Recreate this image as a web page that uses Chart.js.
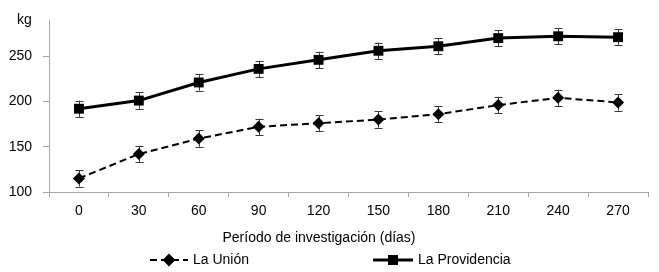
<!DOCTYPE html>
<html>
<head>
<meta charset="utf-8">
<script src="https://cdn.jsdelivr.net/npm/chart.js@4/dist/chart.umd.min.js"></script>
<style>
  html, body { margin: 0; padding: 0; background: #fff; }
  #wrap { width: 659px; height: 272px; position: relative; }
</style>
</head>
<body>
<div id="wrap"><canvas id="c" width="659" height="272"></canvas></div>
<script>
const categories = ["0", "30", "60", "90", "120", "150", "180", "210", "240", "270"];
const laUnion = [115, 142, 159, 172, 176, 180, 186, 196, 204, 199];
const laUnionErr = [9, 9, 9, 9, 9, 9, 9, 9, 9, 9];
const laProvidencia = [192, 201, 221, 236, 246, 256, 261, 270, 272, 271];
const laProvidenciaErr = [9, 9, 9, 9, 9, 9, 9, 9, 9, 9];
const yTicks = [100, 150, 200, 250];
const seriesNames = ["La Unión", "La Providencia"];
const yUnit = "kg";
const xTitle = "Período de investigación (días)";

const FONT = "'Liberation Sans', Arial, sans-serif";
const AXIS = "#a6a6a6";

const errorBars = {
  id: "errorBars",
  beforeDatasetsDraw(chart) {
    const ctx = chart.ctx;
    const y = chart.scales.y;
    chart.data.datasets.forEach((ds, i) => {
      const meta = chart.getDatasetMeta(i);
      ctx.save();
      ctx.strokeStyle = "#3a3a3a";
      ctx.lineWidth = 1;
      meta.data.forEach((pt, j) => {
        const e = ds.errors[j];
        const v = ds.data[j];
        const yTop = y.getPixelForValue(v + e);
        const yBot = y.getPixelForValue(v - e);
        const x = Math.round(pt.x) + 0.5;
        ctx.beginPath();
        ctx.moveTo(x, yTop); ctx.lineTo(x, yBot);
        ctx.moveTo(x - 4, Math.round(yTop) + 0.5); ctx.lineTo(x + 4, Math.round(yTop) + 0.5);
        ctx.moveTo(x - 4, Math.round(yBot) + 0.5); ctx.lineTo(x + 4, Math.round(yBot) + 0.5);
        ctx.stroke();
      });
      ctx.restore();
    });
  }
};

const extras = {
  id: "extras",
  afterDraw(chart) {
    const ctx = chart.ctx;
    ctx.save();
    ctx.fillStyle = "#000";
    ctx.font = "14px " + FONT;
    ctx.textBaseline = "middle";
    // unit label
    ctx.textAlign = "left";
    ctx.fillText(yUnit, 17, 20);
    // x title
    ctx.textAlign = "center";
    ctx.fillText(xTitle, 319, 238);
    // legend
    const ly = 260;
    const ds = chart.data.datasets;
    // La Unión
    ctx.strokeStyle = "#000";
    ctx.lineWidth = 2;
    ctx.setLineDash([7, 4]);
    ctx.beginPath(); ctx.moveTo(150, ly); ctx.lineTo(188, ly); ctx.stroke();
    ctx.setLineDash([]);
    Chart.helpers.drawPoint(ctx, { pointStyle: "rectRot", radius: 5, borderWidth: 1 }, 169, ly);
    ctx.fill();
    ctx.textAlign = "left";
    ctx.fillText(ds[0].label, 193, ly);
    // La Providencia
    ctx.lineWidth = 3;
    ctx.beginPath(); ctx.moveTo(373, ly); ctx.lineTo(413, ly); ctx.stroke();
    ctx.fillStyle = "#000";
    ctx.fillRect(388, ly - 5, 10, 10);
    ctx.fillText(ds[1].label, 418, ly);
    ctx.restore();
  }
};

new Chart(document.getElementById("c"), {
  type: "line",
  data: {
    labels: categories,
    datasets: [
      {
        label: seriesNames[0],
        data: laUnion,
        errors: laUnionErr,
        borderColor: "#000",
        backgroundColor: "#000",
        borderWidth: 2,
        borderDash: [7, 4],
        pointStyle: "rectRot",
        pointRadius: 6,
        pointBorderWidth: 0,
        tension: 0
      },
      {
        label: seriesNames[1],
        data: laProvidencia,
        errors: laProvidenciaErr,
        borderColor: "#000",
        backgroundColor: "#000",
        borderWidth: 3,
        pointStyle: "rect",
        pointRadius: 7,
        pointBorderWidth: 0,
        tension: 0
      }
    ]
  },
  options: {
    responsive: false,
    animation: false,
    layout: { padding: { left: 0, right: 11, top: 20, bottom: 0 } },
    plugins: { legend: { display: false }, tooltip: { enabled: false } },
    scales: {
      x: {
        offset: true,
        grid: { offset: true, drawOnChartArea: false, drawTicks: true, tickLength: 5, color: AXIS },
        border: { color: AXIS, width: 1 },
        ticks: { color: "#000", font: { size: 14, family: FONT }, padding: 6, maxRotation: 0 },
        afterFit(s) { s.height = 80; }
      },
      y: {
        min: 100,
        max: 290,
        grid: { drawOnChartArea: false, drawTicks: true, tickLength: 6, color: AXIS },
        border: { color: AXIS, width: 1 },
        ticks: { color: "#000", font: { size: 14, family: FONT }, padding: 11, stepSize: 50 },
        afterBuildTicks(s) { s.ticks = yTicks.map(v => ({ value: v })); },
        afterFit(s) { s.width = 49; }
      }
    }
  },
  plugins: [errorBars, extras]
});
</script>
</body>
</html>
